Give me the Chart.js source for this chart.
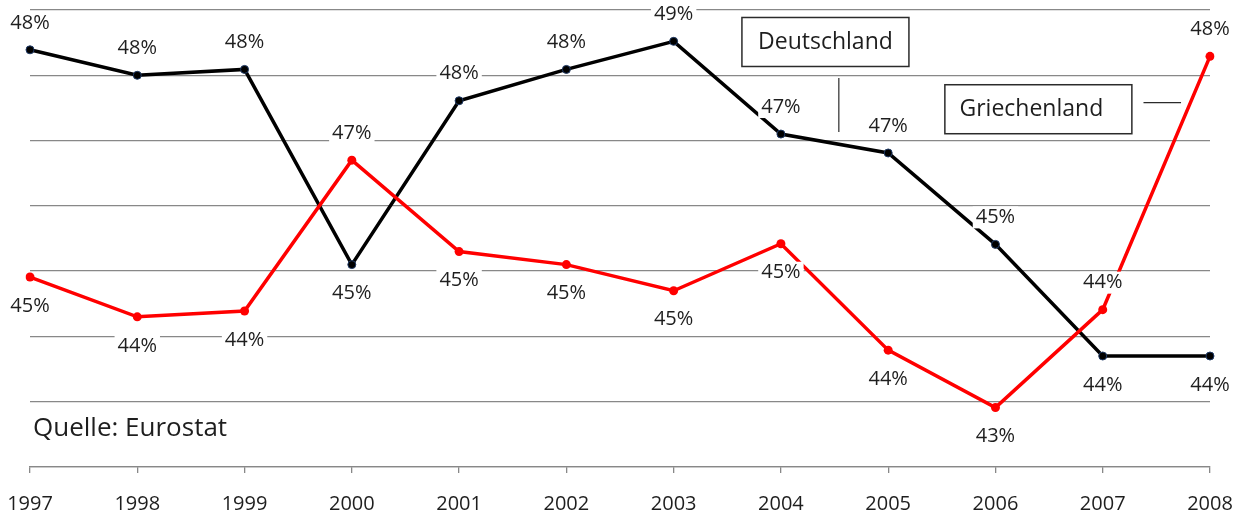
<!DOCTYPE html>
<html>
<head>
<meta charset="utf-8">
<script src="https://cdn.jsdelivr.net/npm/chart.js@4/dist/chart.umd.min.js"></script>
<style>
  html, body { margin: 0; padding: 0; background: #fff; }
  #wrap { width: 1240px; height: 515px; }
</style>
</head>
<body>
<div id="wrap"><canvas id="chart" width="1240" height="515"></canvas></div>
<script>
// Jahre und Werte (in %)
const years = ["1997", "1998", "1999", "2000", "2001", "2002", "2003", "2004", "2005", "2006", "2007", "2008"];
const deutschland = [48.39, 48.0, 48.09, 45.1, 47.61, 48.09, 48.52, 47.1, 46.81, 45.41, 43.7, 43.7];
const griechenland = [44.91, 44.3, 44.39, 46.7, 45.3, 45.1, 44.7, 45.42, 43.79, 42.91, 44.41, 48.29];
// wo die Beschriftung steht
const dePos = ["a", "a", "a", "b", "a", "a", "a", "a", "a", "a", "b", "b"];
const grPos = ["b", "b", "b", "a", "b", "b", "b", "b", "b", "b", "a", "a"];
const yTicks = [42, 43, 44, 45, 46, 47, 48, 49];

const FONT = '"Open Sans", "Liberation Sans", sans-serif';

//Prozent-Beschriftungen mit weissem Hintergrund
const pctLabels = {
  id: "pctLabels",
  afterDatasetsDraw(chart) {
    const ctx = chart.ctx;
    ctx.save();
    ctx.font = "20px " + FONT;
    ctx.textAlign = "center";
    ctx.textBaseline = "middle";
    chart.data.datasets.forEach((ds, i) => {
      chart.getDatasetMeta(i).data.forEach((pt, j) => {
        const txt = Math.round(ds.data[j]) + "%";
        const y = ds.labelPos[j] === "a" ? pt.y - 27 : pt.y + 29;
        const w = ctx.measureText(txt).width + 6;
        ctx.fillStyle = "#fff";
        ctx.fillRect(pt.x - w / 2, y - 11, w, 22);
        ctx.fillStyle = "#1e1e1e";
        ctx.fillText(txt, pt.x, y);
      });
    });
    ctx.restore();
  },
};

//Kaesten mit Laendernamen und Quelle
const annotations = {
  id: "annotations",
  afterDraw(chart) {
    const ctx = chart.ctx;
    const x = chart.scales.x;
    const y = chart.scales.y;
    ctx.save();

    function box(cx, cy, w, h, text, dx) {
      ctx.fillStyle = "#fff";
      ctx.fillRect(cx - w / 2, cy - h / 2, w, h);
      ctx.strokeStyle = "#2b2b2b";
      ctx.lineWidth = 1.5;
      ctx.strokeRect(cx - w / 2, cy - h / 2, w, h);
      ctx.fillStyle = "#1e1e1e";
      ctx.font = "23px " + FONT;
      ctx.textAlign = "center";
      ctx.textBaseline = "middle";
      ctx.fillText(text, cx + dx, cy);
    }
    function line(x1, y1, x2, y2) {
      ctx.strokeStyle = "#2b2b2b";
      ctx.lineWidth = 1.2;
      ctx.beginPath();
      ctx.moveTo(x1, y1);
      ctx.lineTo(x2, y2);
      ctx.stroke();
    }

    box(x.getPixelForValue(7.415), y.getPixelForValue(48.51), 167, 49, "Deutschland", 0);
    const lx = x.getPixelForValue(7.54);
    line(lx, y.getPixelForValue(47.96), lx, y.getPixelForValue(47.13));

    box(x.getPixelForValue(9.4), y.getPixelForValue(47.48), 187, 49, "Griechenland", -7);
    const ly = y.getPixelForValue(47.58);
    line(x.getPixelForValue(10.38), ly, x.getPixelForValue(10.73), ly);

    ctx.fillStyle = "#1e1e1e";
    ctx.font = "26px " + FONT;
    ctx.textAlign = "left";
    ctx.textBaseline = "middle";
    ctx.fillText("Quelle: Eurostat", chart.chartArea.left + 3, y.getPixelForValue(42.59));
    ctx.restore();
  },
};

const data = {
  labels: years,
  datasets: [
    {
      label: "Griechenland",
      data: griechenland,
      labelPos: grPos,
      borderColor: "#ff0000",
      backgroundColor: "#ff0000",
      borderWidth: 3.5,
      pointRadius: 4.5,
      pointBorderWidth: 0,
      pointBackgroundColor: "#ff0000",
      tension: 0,
    },
    {
      label: "Deutschland",
      data: deutschland,
      labelPos: dePos,
      borderColor: "#000000",
      backgroundColor: "#000000",
      borderWidth: 3.5,
      pointRadius: 4,
      pointBorderWidth: 1,
      pointBorderColor: "#1f3a66",
      pointBackgroundColor: "#000000",
      tension: 0,
    },
  ],
};

const options = {
  responsive: false,
  animation: false,
  devicePixelRatio: 1,
  layout: { padding: { left: 30, right: 30, top: 10, bottom: -20 } },
  plugins: {
    legend: { display: false },
    tooltip: { enabled: false },
  },
  scales: {
    x: {
      afterFit: (scale) => { scale.paddingLeft = 0; scale.paddingRight = 0; },
      grid: { drawOnChartArea: false, drawTicks: true, tickLength: 6, color: "#888888", lineWidth: 1.3 },
      border: { display: true, color: "#888888", width: 1.3 },
      ticks: { color: "#1e1e1e", font: { family: FONT, size: 20 }, padding: 19, maxRotation: 0, autoSkip: false },
    },
    y: {
      min: yTicks[0],
      max: yTicks[yTicks.length - 1],
      afterBuildTicks: (scale) => { scale.ticks = yTicks.map((v) => ({ value: v })); },
      grid: { drawTicks: false, color: "#888888", lineWidth: 1.3 },
      border: { display: false },
      ticks: { display: false },
    },
  },
};

new Chart("chart", { type: "line", data, options, plugins: [pctLabels, annotations] });
</script>
</body>
</html>
